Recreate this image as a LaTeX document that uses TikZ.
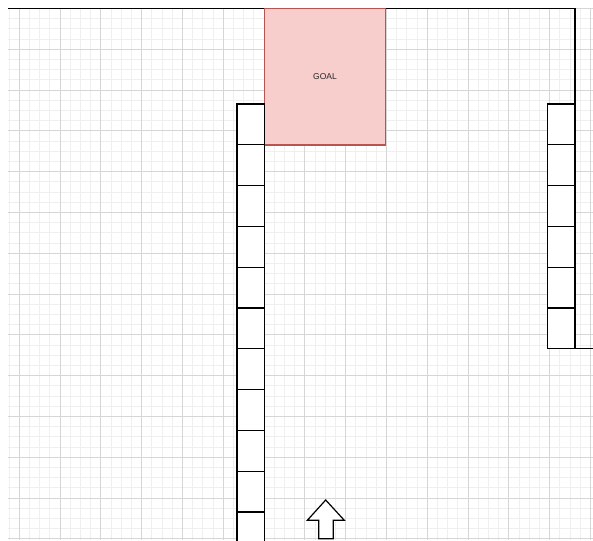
\documentclass[tikz,border=0pt]{standalone}
\usepackage{fontspec}
\setmainfont{Liberation Sans}
\definecolor{goalfill}{HTML}{F8CECC}
\definecolor{goalstroke}{HTML}{B85450}
\definecolor{minorgrid}{HTML}{EFEFEF}
\definecolor{majorgrid}{HTML}{D6D6D6}
\begin{document}
\begin{tikzpicture}[x=1pt,y=-1pt,
  wall/.style={draw=black, line width=1.2pt},
  cell/.style={draw=black, line width=1.2pt, fill=white, minimum width=27.6pt, minimum height=40.8pt, inner sep=0pt, outer sep=0pt, anchor=north west},
  goalbox/.style={draw=goalstroke, fill=goalfill, line width=1.3pt, minimum width=121.4pt, minimum height=136.3pt, inner sep=0pt, outer sep=0pt, anchor=north west, font=\fontsize{8.5}{10}\selectfont, text=black!85},
  minorline/.style={draw=minorgrid, line width=0.9pt},
  majorline/.style={draw=majorgrid, line width=1pt},
  arrowshape/.style={draw=black, fill=white, line width=1.2pt, line join=miter}]
\useasboundingbox (0,0) rectangle (593,540);
\clip (0,0) rectangle (593,540);
% grid
\foreach \i in {0,...,57} \draw[minorline] ({9.1+10.2*\i},8.5) -- ({9.1+10.2*\i},540);
\foreach \j in {0,...,52} \draw[minorline] (7.5,{8.5+10.2*\j}) -- (593,{8.5+10.2*\j});
\foreach \i in {0,...,14} \draw[majorline] ({19.3+40.8*\i},8.5) -- ({19.3+40.8*\i},540);
\foreach \j in {0,...,13} \draw[majorline] (7.5,{8.5+40.8*\j}) -- (593,{8.5+40.8*\j});
% goal
\node[goalbox] (goal) at (264.3,8.7) {GOAL};
% left column
\foreach \k in {0,...,10} {
  \node[cell] (l\k) at (237,{104+40.8*\k}) {};
}
% right column
\foreach \k in {0,...,5} {
  \node[cell] (r\k) at (547.4,{104+40.8*\k}) {};
}
% walls
\coordinate (wallTL) at (8,8.7);
\coordinate (wallTR) at (575,8.7);
\coordinate (wallBR) at (593,348.8);
\draw[wall] (wallTL) -- (goal.north west);
\draw[wall] (goal.north east) -- (wallTR) -- (r0.north east);
\draw[wall] (r5.south east) -- (wallBR);
% start arrow
\draw[arrowshape] (325.7,500) -- (344.3,520.3) -- (333.3,520.3) -- (333.3,538.7) -- (318.7,538.7) -- (318.7,520.3) -- (307.3,520.3) -- cycle;
\end{tikzpicture}
\end{document}
